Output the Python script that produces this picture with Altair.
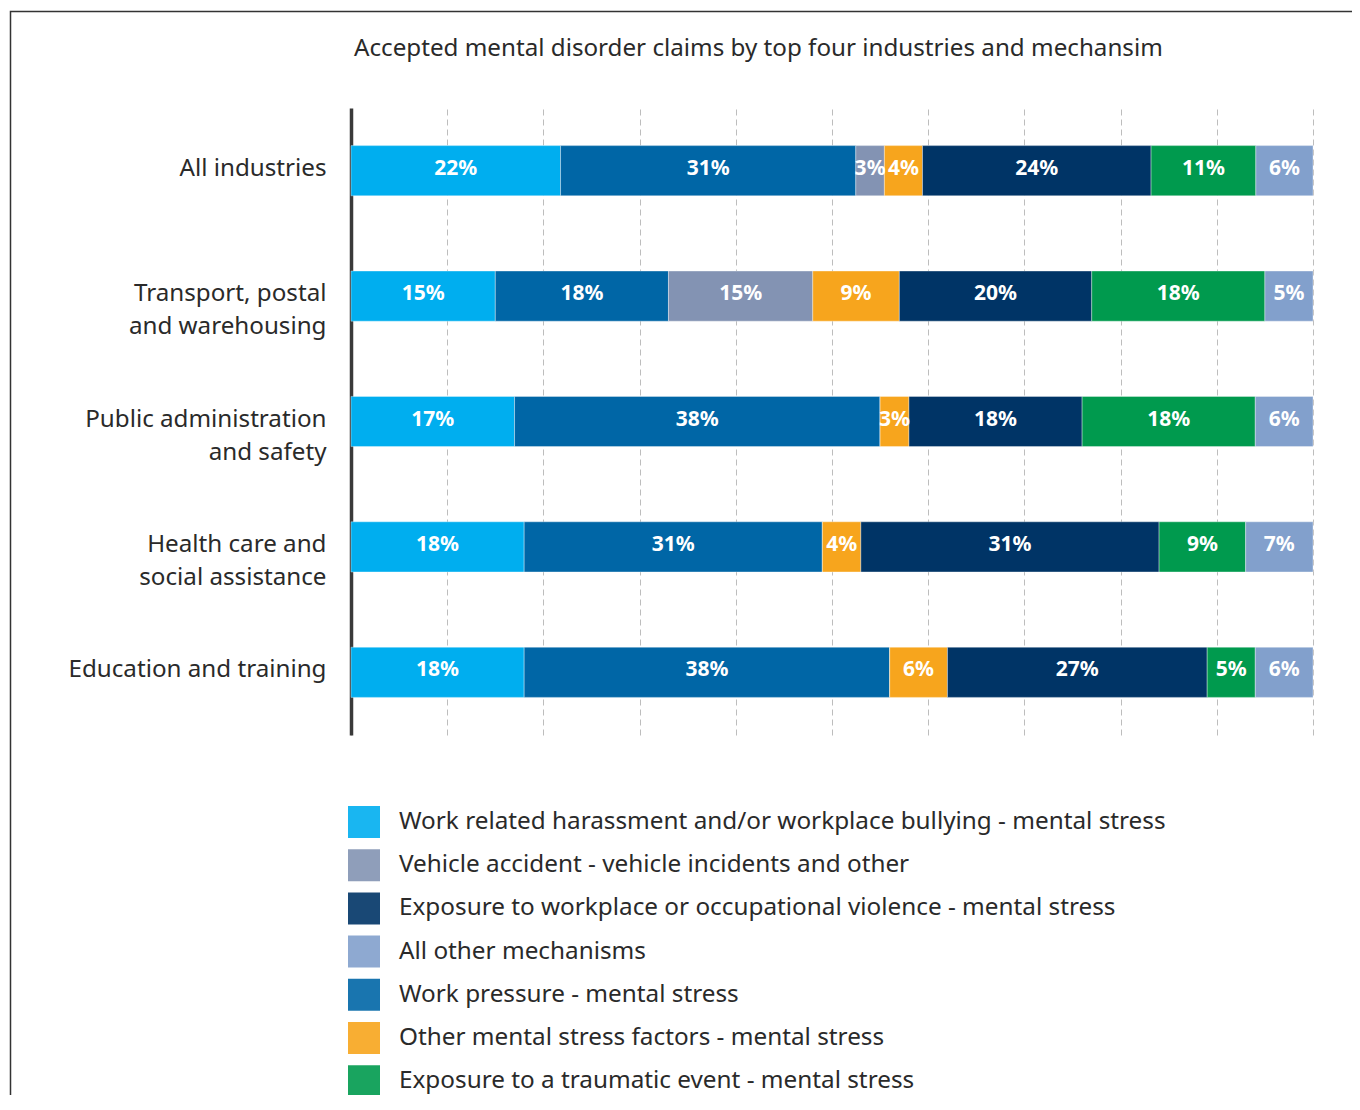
import altair as alt
import pandas as pd

title_text = "Accepted mental disorder claims by top four industries and mechansim"

industries = [
    "All industries",
    "Transport, postal and warehousing",
    "Public administration and safety",
    "Health care and social assistance",
    "Education and training",
]
industry_lines = [
    ["All industries"],
    ["Transport, postal", "and warehousing"],
    ["Public administration", "and safety"],
    ["Health care and", "social assistance"],
    ["Education and training"],
]

# mechanisms in stacking order (left to right)
mechanisms = [
    "Work related harassment and/or workplace bullying - mental stress",
    "Work pressure - mental stress",
    "Vehicle accident - vehicle incidents and other",
    "Other mental stress factors - mental stress",
    "Exposure to workplace or occupational violence - mental stress",
    "Exposure to a traumatic event - mental stress",
    "All other mechanisms",
]
colors = ["#00aeef", "#0066a6", "#8393b3", "#f7a51d", "#003466", "#009a4e", "#82a0cc"]

harassment = [22, 15, 17, 18, 18]
work_pressure = [31, 18, 38, 31, 38]
vehicle = [3, 15, 0, 0, 0]
other_stress = [4, 9, 3, 4, 6]
violence = [24, 20, 18, 31, 27]
traumatic = [11, 18, 18, 9, 5]
all_other = [6, 5, 6, 7, 6]
series = [harassment, work_pressure, vehicle, other_stress, violence, traumatic, all_other]

grid_values = [0, 0.1, 0.2, 0.3, 0.4, 0.5, 0.6, 0.7, 0.8, 0.9, 1.0]

legend_order = [
    mechanisms[0], mechanisms[2], mechanisms[4], mechanisms[6],
    mechanisms[1], mechanisms[3], mechanisms[5],
]
legend_colors = [colors[mechanisms.index(m)] for m in legend_order]

rows = []
for i, ind in enumerate(industries):
    for j, mech in enumerate(mechanisms):
        rows.append({"industry": ind, "mechanism": mech, "order": j, "value": series[j][i]})
df = pd.DataFrame(rows)

FONT = "Noto Sans"

label_expr = " : ".join(
    f"datum.label == '{ind}' ? {lines!r}" for ind, lines in zip(industries, industry_lines)
) + " : datum.label"

base = alt.Chart(df).transform_stack(
    stack="value", groupby=["industry"], sort=[alt.SortField("order")],
    as_=["x0", "x1"], offset="normalize"
).transform_calculate(mid="(datum.x0 + datum.x1) / 2", lbl="datum.value + '%'")

y_axis = alt.Axis(
    domain=True, domainColor="#3a3a3a", domainWidth=3.5, ticks=False, grid=False,
    labelFont=FONT, labelFontSize=24.2, labelColor="#2a2a2a", labelPadding=25,
    labelBaseline="alphabetic", labelOffset=5, labelLineHeight=33,
    labelExpr=label_expr, labelLimit=400,
)
y_scale = alt.Scale(paddingInner=0.6, paddingOuter=0.3)

x_axis = alt.Axis(
    labels=False, ticks=False, domain=False, grid=True,
    values=grid_values,
    gridColor="#bdbdbd", gridDash=[6, 4], gridWidth=1,
)
x_scale = alt.Scale(domain=[0, 1], nice=False)

bars = base.mark_bar(stroke="#ffffff", strokeWidth=0.6, strokeOpacity=0.6).encode(
    y=alt.Y("industry:N", sort=industries, title=None, scale=y_scale, axis=y_axis),
    x=alt.X("x0:Q", title=None, scale=x_scale, axis=x_axis),
    x2="x1:Q",
    color=alt.Color(
        "mechanism:N",
        scale=alt.Scale(domain=legend_order, range=legend_colors),
        legend=alt.Legend(
            title=None, orient="none", legendX=-3, legendY=698, direction="vertical",
            symbolType="square", symbolSize=1024, symbolStrokeWidth=0, symbolOpacity=0.9,
            labelFont=FONT, labelFontSize=24.3, labelColor="#2a2a2a", labelOffset=19,
            rowPadding=11.2, labelLimit=1000,
        ),
    ),
)

text = base.transform_filter("datum.value > 0").mark_text(
    font=FONT, fontSize=21, fontWeight="bold", color="white", baseline="middle",
    align="center", dy=-2
).encode(
    y=alt.Y("industry:N", sort=industries, title=None, scale=y_scale, axis=y_axis),
    x=alt.X("mid:Q", title=None, scale=x_scale, axis=x_axis),
    text="lbl:N",
)

frame = alt.Chart(pd.DataFrame({"a": [0]})).mark_rect(
    fill=None, stroke="#333333", strokeWidth=1.5, clip=False
).encode(
    x=alt.value(-340.5), x2=alt.value(1200), y=alt.value(-96.5), y2=alt.value(1200)
)

title = alt.Chart(pd.DataFrame({"t": [title_text]})).mark_text(
    font=FONT, fontSize=24.2, color="#2a2a2a", align="left", baseline="alphabetic"
).encode(
    x=alt.value(3), y=alt.value(-52), text="t:N"
)

chart = alt.layer(frame, bars, text, title).properties(
    width=962, height=627,
    autosize=alt.AutoSizeParams(type="none"),
    padding={"left": 343, "top": 100, "right": 39, "bottom": 360},
).configure_view(stroke=None)

chart.save("out.html", embed_options={"renderer": "svg", "actions": False})
